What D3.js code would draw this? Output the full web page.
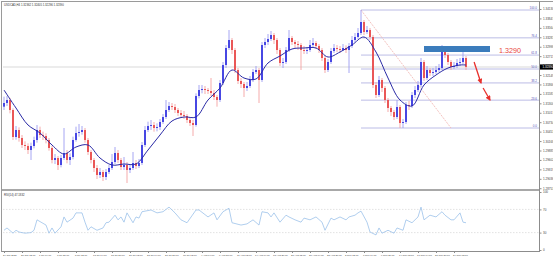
<!DOCTYPE html>
<html>
<head>
<meta charset="utf-8">
<script src="https://cdn.jsdelivr.net/npm/d3@7"></script>
<style>
  body { margin: 0; background: #fff; }
  svg { display: block; font-family: "Liberation Sans", Arial, sans-serif; }
</style>
</head>
<body>
<svg id="chart" width="553" height="259"></svg>
<script>
const chartTitle = 'USDCAD,H4  1.32362 1.32405 1.32296 1.32390'
const rsiTitle = 'RSI(14) 47.1832'
const bidPrice = 1.3239

// H4 candles
const open = [
  1.3120, 1.3131, 1.3140, 1.3110, 1.3029, 1.3050, 1.3026, 1.3005, 1.3002, 1.2990,
  1.3002, 1.3020, 1.3050, 1.3035, 1.3032, 1.3020, 1.2996, 1.2960, 1.2966, 1.2945,
  1.2966, 1.2981, 1.2960, 1.2969, 1.3020, 1.3041, 1.3044, 1.3050, 1.3020, 1.2984,
  1.2960, 1.2936, 1.2915, 1.2924, 1.2909, 1.2924, 1.2936, 1.2954, 1.2981, 1.2960,
  1.2939, 1.2945, 1.2930, 1.2936, 1.2951, 1.2942, 1.2951, 1.3005, 1.3050, 1.3062,
  1.3065, 1.3056, 1.3059, 1.3074, 1.3089, 1.3110, 1.3122, 1.3119, 1.3110, 1.3101,
  1.3095, 1.3092, 1.3080, 1.3071, 1.3065, 1.3152, 1.3170, 1.3173, 1.3170, 1.3167,
  1.3161, 1.3149, 1.3140, 1.3191, 1.3245, 1.3296, 1.3320, 1.3290, 1.3230, 1.3197,
  1.3188, 1.3176, 1.3182, 1.3200, 1.3224, 1.3230, 1.3200, 1.3305, 1.3314, 1.3323,
  1.3335, 1.3320, 1.3290, 1.3251, 1.3254, 1.3290, 1.3326, 1.3314, 1.3308, 1.3305,
  1.3290, 1.3287, 1.3290, 1.3305, 1.3311, 1.3302, 1.3290, 1.3266, 1.3230, 1.3254,
  1.3287, 1.3296, 1.3293, 1.3290, 1.3296, 1.3290, 1.3302, 1.3320, 1.3329, 1.3341,
  1.3374, 1.3344, 1.3350, 1.3329, 1.3185, 1.3155, 1.3200, 1.3176, 1.3140, 1.3116,
  1.3104, 1.3089, 1.3119, 1.3071, 1.3074, 1.3125, 1.3122, 1.3155, 1.3170, 1.3185,
  1.3254, 1.3206, 1.3230, 1.3221, 1.3224, 1.3230, 1.3236, 1.3284, 1.3275, 1.3254,
  1.3239, 1.3242, 1.3251, 1.3254, 1.3266
]
const high = [
  1.3150, 1.3152, 1.3146, 1.3115, 1.3062, 1.3058, 1.3035, 1.3016, 1.3010, 1.3012,
  1.3030, 1.3065, 1.3060, 1.3045, 1.3040, 1.3026, 1.3002, 1.2978, 1.2972, 1.2975,
  1.3056, 1.2990, 1.2980, 1.3030, 1.3060, 1.3068, 1.3062, 1.3056, 1.3026, 1.2990,
  1.2966, 1.2945, 1.2936, 1.2930, 1.2933, 1.2945, 1.2978, 1.2999, 1.2990, 1.2966,
  1.2969, 1.2954, 1.2948, 1.2984, 1.2960, 1.2963, 1.3014, 1.3062, 1.3075, 1.3080,
  1.3074, 1.3070, 1.3083, 1.3098, 1.3140, 1.3134, 1.3131, 1.3128, 1.3116, 1.3110,
  1.3107, 1.3098, 1.3086, 1.3080, 1.3160, 1.3185, 1.3185, 1.3182, 1.3176, 1.3206,
  1.3170, 1.3155, 1.3200, 1.3254, 1.3305, 1.3350, 1.3326, 1.3296, 1.3236, 1.3206,
  1.3194, 1.3194, 1.3212, 1.3233, 1.3242, 1.3236, 1.3314, 1.3326, 1.3338, 1.3347,
  1.3341, 1.3326, 1.3296, 1.3266, 1.3299, 1.3350, 1.3332, 1.3320, 1.3317, 1.3311,
  1.3302, 1.3299, 1.3320, 1.3326, 1.3317, 1.3308, 1.3296, 1.3272, 1.3263, 1.3296,
  1.3308, 1.3305, 1.3302, 1.3308, 1.3304, 1.3311, 1.3332, 1.3341, 1.3356, 1.3410,
  1.3380, 1.3362, 1.3356, 1.3335, 1.3194, 1.3212, 1.3206, 1.3182, 1.3146, 1.3122,
  1.3110, 1.3140, 1.3125, 1.3083, 1.3134, 1.3137, 1.3164, 1.3182, 1.3197, 1.3266,
  1.3260, 1.3242, 1.3236, 1.3236, 1.3242, 1.3248, 1.3305, 1.3296, 1.3281, 1.3260,
  1.3254, 1.3263, 1.3266, 1.3290, 1.3272
]
const low = [
  1.3110, 1.3122, 1.3100, 1.3020, 1.3021, 1.3015, 1.2996, 1.2990, 1.2978, 1.2960,
  1.2995, 1.3012, 1.3026, 1.3020, 1.3010, 1.2988, 1.2950, 1.2948, 1.2930, 1.2938,
  1.2960, 1.2950, 1.2945, 1.2962, 1.3015, 1.3030, 1.3036, 1.3012, 1.2975, 1.2950,
  1.2924, 1.2903, 1.2906, 1.2897, 1.2900, 1.2918, 1.2930, 1.2948, 1.2951, 1.2930,
  1.2930, 1.2891, 1.2921, 1.2930, 1.2933, 1.2936, 1.2945, 1.2999, 1.3044, 1.3050,
  1.3045, 1.3046, 1.3050, 1.3068, 1.3083, 1.3104, 1.3110, 1.3101, 1.3092, 1.3086,
  1.3083, 1.3071, 1.3062, 1.3032, 1.3060, 1.3145, 1.3160, 1.3158, 1.3158, 1.3152,
  1.3140, 1.3120, 1.3134, 1.3185, 1.3236, 1.3290, 1.3278, 1.3221, 1.3188, 1.3176,
  1.3149, 1.3167, 1.3176, 1.3194, 1.3218, 1.3131, 1.3194, 1.3296, 1.3305, 1.3317,
  1.3308, 1.3278, 1.3242, 1.3236, 1.3248, 1.3284, 1.3305, 1.3296, 1.3290, 1.3230,
  1.3278, 1.3278, 1.3284, 1.3299, 1.3293, 1.3281, 1.3257, 1.3221, 1.3224, 1.3248,
  1.3281, 1.3284, 1.3281, 1.3287, 1.3281, 1.3221, 1.3296, 1.3314, 1.3323, 1.3335,
  1.3335, 1.3338, 1.3320, 1.3176, 1.3146, 1.3149, 1.3164, 1.3131, 1.3104, 1.3092,
  1.3080, 1.3083, 1.3056, 1.3056, 1.3068, 1.3110, 1.3116, 1.3146, 1.3164, 1.3179,
  1.3197, 1.3200, 1.3212, 1.3212, 1.3218, 1.3224, 1.3230, 1.3266, 1.3245, 1.3230,
  1.3233, 1.3236, 1.3242, 1.3248, 1.3230
]
const close = [
  1.3131, 1.3140, 1.3110, 1.3029, 1.3050, 1.3026, 1.3005, 1.3002, 1.2990, 1.3002,
  1.3020, 1.3050, 1.3035, 1.3032, 1.3020, 1.2996, 1.2960, 1.2966, 1.2945, 1.2966,
  1.2981, 1.2960, 1.2969, 1.3020, 1.3041, 1.3044, 1.3050, 1.3020, 1.2984, 1.2960,
  1.2936, 1.2915, 1.2924, 1.2909, 1.2924, 1.2936, 1.2954, 1.2981, 1.2960, 1.2939,
  1.2945, 1.2930, 1.2936, 1.2951, 1.2942, 1.2951, 1.3005, 1.3050, 1.3062, 1.3065,
  1.3056, 1.3059, 1.3074, 1.3089, 1.3110, 1.3122, 1.3119, 1.3110, 1.3101, 1.3095,
  1.3092, 1.3080, 1.3071, 1.3065, 1.3152, 1.3170, 1.3173, 1.3170, 1.3167, 1.3161,
  1.3149, 1.3140, 1.3191, 1.3245, 1.3296, 1.3320, 1.3290, 1.3230, 1.3197, 1.3188,
  1.3176, 1.3182, 1.3200, 1.3224, 1.3230, 1.3200, 1.3305, 1.3314, 1.3323, 1.3335,
  1.3320, 1.3290, 1.3251, 1.3254, 1.3290, 1.3326, 1.3314, 1.3308, 1.3305, 1.3290,
  1.3287, 1.3290, 1.3305, 1.3311, 1.3302, 1.3290, 1.3266, 1.3230, 1.3254, 1.3287,
  1.3296, 1.3293, 1.3290, 1.3296, 1.3290, 1.3302, 1.3320, 1.3329, 1.3341, 1.3374,
  1.3344, 1.3350, 1.3329, 1.3185, 1.3155, 1.3200, 1.3176, 1.3140, 1.3116, 1.3104,
  1.3089, 1.3119, 1.3071, 1.3074, 1.3125, 1.3122, 1.3155, 1.3170, 1.3185, 1.3254,
  1.3206, 1.3230, 1.3221, 1.3224, 1.3230, 1.3236, 1.3284, 1.3275, 1.3254, 1.3239,
  1.3242, 1.3251, 1.3254, 1.3266, 1.3239
]

// moving average, read at every 4th bar
const maIdx = [0, 4, 8, 12, 16, 20, 24, 28, 32, 36, 40, 44, 48, 52, 56, 60, 64, 68, 72, 76,
  80, 84, 88, 92, 96, 100, 104, 108, 112, 116, 120, 124, 128, 132, 136, 140, 144, 148, 152, 154]
const maVal = [1.3170, 1.3116, 1.3065, 1.3041, 1.3005, 1.2978, 1.2999, 1.3005, 1.2966, 1.2945,
  1.2948, 1.2948, 1.2990, 1.3035, 1.3077, 1.3089, 1.3089, 1.3140, 1.3176, 1.3230,
  1.3206, 1.3203, 1.3251, 1.3272, 1.3293, 1.3296, 1.3296, 1.3269, 1.3284, 1.3305,
  1.3329, 1.3284, 1.3206, 1.3140, 1.3122, 1.3185, 1.3215, 1.3236, 1.3245, 1.3245]

// RSI(14) sub window
const rsiIdx = [0, 1, 3, 4, 5, 7, 9, 10, 11, 13, 14, 15, 16, 17, 19, 20, 21, 23, 24, 26,
  27, 28, 29, 31, 33, 34, 35, 37, 38, 39, 40, 41, 43, 44, 45, 46, 49, 51, 53, 55,
  57, 59, 61, 64, 65, 68, 70, 71, 73, 75, 76, 79, 81, 83, 85, 86, 88, 89, 90, 92,
  94, 95, 97, 99, 100, 102, 104, 106, 107, 109, 110, 112, 114, 115, 117, 118, 119, 121, 122, 124,
  125, 126, 128, 130, 131, 133, 134, 136, 138, 139, 140, 142, 144, 146, 147, 149, 150, 152, 153, 154]
const rsiVal = [34, 38, 29, 34, 31, 29, 30, 34, 52, 46, 43, 29, 38, 29, 40, 57, 48, 55, 64, 64,
  48, 34, 40, 34, 38, 47, 48, 60, 52, 57, 48, 64, 47, 57, 55, 66, 69, 64, 66, 74,
  64, 52, 47, 69, 69, 57, 64, 52, 66, 72, 47, 43, 45, 52, 43, 66, 64, 57, 64, 48,
  60, 57, 52, 48, 55, 52, 57, 48, 34, 55, 52, 57, 52, 57, 60, 64, 67, 48, 31, 26,
  38, 29, 34, 29, 38, 34, 52, 47, 57, 74, 52, 60, 57, 66, 60, 52, 52, 64, 48, 47]
const rsiLevels = [70, 30]
const rsiTicks = [100, 70, 30, 0]

const priceTicks = [1.34130, 1.33847, 1.33564, 1.33281, 1.32998, 1.32715, 1.32432, 1.32149,
  1.31866, 1.31583, 1.31300, 1.31017, 1.30734, 1.30451, 1.30168, 1.29885, 1.29602,
  1.29319, 1.29036, 1.28753]

const timeIdx = d3.range(0, 151, 6)
const timeLabels = ['24 Jun 2020', '26 Jun 12:00', '1 Jul 04:00', '3 Jul 20:00', '8 Jul 12:00',
  '13 Jul 04:00', '15 Jul 20:00', '20 Jul 12:00', '23 Jul 04:00', '27 Jul 20:00',
  '30 Jul 12:00', '4 Aug 04:00', '6 Aug 20:00', '11 Aug 12:00', '14 Aug 04:00',
  '18 Aug 20:00', '21 Aug 12:00', '26 Aug 04:00', '28 Aug 20:00', '2 Sep 12:00',
  '7 Sep 04:00', '9 Sep 20:00', '14 Sep 12:00', '17 Sep 04:00', '21 Sep 20:00', '24 Sep 12:00']

// objects drawn on the chart
const fibFrom = { i: 119, price: 1.3410 }
const fibTo = { i: 149, price: 1.3056 }
const fibLevels = [0, 23.6, 38.2, 50, 61.8, 76.4, 100]
const zone = { i0: 140, i1: 162, lo: 1.3284, hi: 1.3302 }
const zoneLabel = { i: 165, price: 1.3290, text: '1.3290' }
const arrows = [
  { i0: 156.7, p0: 1.3254, i1: 159, p1: 1.3191 },
  { i0: 159.7, p0: 1.3176, i1: 162, p1: 1.3140 }
]

const plotL = 3, plotR = 539
const mainTop = 2, mainBot = 189
const rsiTop = 192, rsiBot = 250

const svg = d3.select('#chart')

const x = d3.scaleLinear().domain([0, 154]).range([4, 466])
const y = d3.scaleLinear().domain([1.2873, 1.3434]).range([mainBot, mainTop])
const yRsi = d3.scaleLinear().domain([0, 100]).range([rsiBot, rsiTop])

svg.append('defs').append('marker')
  .attr('id', 'arrow')
  .attr('viewBox', '0 0 10 10')
  .attr('refX', 8).attr('refY', 5)
  .attr('markerWidth', 4).attr('markerHeight', 4)
  .attr('orient', 'auto')
  .append('path')
  .attr('d', 'M0,0 L10,5 L0,10 z')
  .attr('fill', '#e8302c')

// frame
svg.append('line').attr('x1', 1.5).attr('x2', 1.5).attr('y1', 1).attr('y2', 252)
  .attr('stroke', '#9a9a9a')
svg.append('line').attr('x1', 1).attr('x2', 553).attr('y1', 1.5).attr('y2', 1.5)
  .attr('stroke', '#9a9a9a')
svg.append('line').attr('x1', 2).attr('x2', plotR).attr('y1', 190).attr('y2', 190)
  .attr('stroke', '#a8a8a8').attr('stroke-width', 2.2)
svg.append('line').attr('x1', 2).attr('x2', plotR).attr('y1', 251.5).attr('y2', 251.5)
  .attr('stroke', '#8c8c8c')

svg.append('text').attr('x', 4).attr('y', 5.6).text(chartTitle)
  .attr('font-size', 2.8).attr('fill', '#333')
svg.append('text').attr('x', 4).attr('y', 195.5).text(rsiTitle)
  .attr('font-size', 2.8).attr('fill', '#333')

// bid line
svg.append('line').attr('x1', plotL).attr('x2', plotR)
  .attr('y1', y(bidPrice)).attr('y2', y(bidPrice))
  .attr('stroke', '#cfcfcf').attr('stroke-width', 0.8)

// fibonacci
const fibX0 = x(fibFrom.i)
const fibPrice = l => fibTo.price + (fibFrom.price - fibTo.price) * l / 100
const fib = svg.append('g')
fib.selectAll('line')
  .data(fibLevels)
  .enter()
  .append('line')
  .attr('x1', fibX0).attr('x2', plotR)
  .attr('y1', d => y(fibPrice(d))).attr('y2', d => y(fibPrice(d)))
  .attr('stroke', '#a9abe0').attr('stroke-width', 0.8)
fib.selectAll('text')
  .data(fibLevels)
  .enter()
  .append('text')
  .attr('x', plotR - 2).attr('y', d => y(fibPrice(d)) - 0.6)
  .attr('text-anchor', 'end')
  .attr('font-size', 3).attr('fill', '#5656b8')
  .text(d => d.toFixed(1))
svg.append('line')
  .attr('x1', x(fibFrom.i)).attr('y1', y(fibFrom.price))
  .attr('x2', x(fibTo.i)).attr('y2', y(fibTo.price))
  .attr('stroke', '#f0b4b0').attr('stroke-width', 0.8)
  .attr('stroke-dasharray', '2,1')

// candles
const bars = d3.range(close.length)
const up = i => close[i] >= open[i]
svg.append('g').selectAll('line')
  .data(bars)
  .enter()
  .append('line')
  .attr('x1', i => x(i)).attr('x2', i => x(i))
  .attr('y1', i => y(high[i])).attr('y2', i => y(low[i]))
  .attr('stroke', i => up(i) ? '#9c9cf2' : '#f4a2a2')
  .attr('stroke-width', 0.9)
svg.append('g').selectAll('rect')
  .data(bars)
  .enter()
  .append('rect')
  .attr('x', i => x(i) - 0.9)
  .attr('width', 1.8)
  .attr('y', i => y(Math.max(open[i], close[i])))
  .attr('height', i => Math.max(0.7, Math.abs(y(open[i]) - y(close[i]))))
  .attr('fill', i => up(i) ? '#3838e0' : '#e84a4a')

// moving average
const maLine = d3.line()
  .x((d, k) => x(maIdx[k]))
  .y(d => y(d))
  .curve(d3.curveCatmullRom)
svg.append('path')
  .datum(maVal)
  .attr('fill', 'none')
  .attr('stroke', '#2a2aa6')
  .attr('stroke-width', 1)
  .attr('d', maLine)

// resistance zone and arrows
svg.append('rect')
  .attr('x', x(zone.i0)).attr('width', x(zone.i1) - x(zone.i0))
  .attr('y', y(zone.hi)).attr('height', y(zone.lo) - y(zone.hi))
  .attr('fill', '#3b7cbc')
svg.append('text')
  .attr('x', x(zoneLabel.i)).attr('y', y(zoneLabel.price) + 2.6)
  .attr('font-size', 7.2).attr('fill', '#e8453c')
  .text(zoneLabel.text)
svg.append('g').selectAll('line')
  .data(arrows)
  .enter()
  .append('line')
  .attr('x1', d => x(d.i0)).attr('y1', d => y(d.p0))
  .attr('x2', d => x(d.i1)).attr('y2', d => y(d.p1))
  .attr('stroke', '#e8302c').attr('stroke-width', 1.3)
  .attr('marker-end', 'url(#arrow)')

// price axis
const priceAxis = d3.axisRight(y)
  .tickValues(priceTicks)
  .tickFormat(d3.format('.5f'))
  .tickSize(2).tickPadding(1.5)
const pa = svg.append('g')
  .attr('transform', `translate(${plotR + 0.5},0)`)
  .call(priceAxis)
pa.select('.domain').attr('d', `M0,1V252`).attr('stroke', '#8c8c8c')
pa.selectAll('line').attr('stroke', '#8c8c8c')
pa.selectAll('text').attr('font-size', 3).attr('fill', '#444')

svg.append('rect')
  .attr('x', plotR + 1).attr('y', y(bidPrice) - 2.6)
  .attr('width', 13).attr('height', 5.2)
  .attr('fill', '#000')
svg.append('text')
  .attr('x', plotR + 3.5).attr('y', y(bidPrice) + 1.1)
  .attr('font-size', 3).attr('fill', '#fff')
  .text(d3.format('.5f')(bidPrice))

// RSI window
svg.append('g').selectAll('line')
  .data(rsiLevels)
  .enter()
  .append('line')
  .attr('x1', plotL).attr('x2', plotR)
  .attr('y1', d => yRsi(d)).attr('y2', d => yRsi(d))
  .attr('stroke', '#d6d6d6').attr('stroke-width', 0.7)
  .attr('stroke-dasharray', '1.5,1.5')
const rsiLine = d3.line()
  .x((d, k) => x(rsiIdx[k]))
  .y(d => yRsi(d))
svg.append('path')
  .datum(rsiVal)
  .attr('fill', 'none')
  .attr('stroke', '#9cc2ea')
  .attr('stroke-width', 0.8)
  .attr('d', rsiLine)
const rsiAxis = d3.axisRight(yRsi)
  .tickValues(rsiTicks)
  .tickSize(2).tickPadding(1.5)
const ra = svg.append('g')
  .attr('transform', `translate(${plotR + 0.5},0)`)
  .call(rsiAxis)
ra.select('.domain').remove()
ra.selectAll('line').attr('stroke', '#8c8c8c')
ra.selectAll('text').attr('font-size', 3).attr('fill', '#444')

// time axis
const timeAxis = d3.axisBottom(x)
  .tickValues(timeIdx)
  .tickFormat((d, k) => timeLabels[k])
  .tickSize(1.5).tickPadding(0.8)
const ta = svg.append('g')
  .attr('transform', 'translate(0,251.5)')
  .call(timeAxis)
ta.select('.domain').remove()
ta.selectAll('line').attr('stroke', '#8c8c8c')
ta.selectAll('text')
  .attr('font-size', 2.5).attr('fill', '#444')
  .attr('text-anchor', 'start').attr('dx', -1.5)
</script>
</body>
</html>
